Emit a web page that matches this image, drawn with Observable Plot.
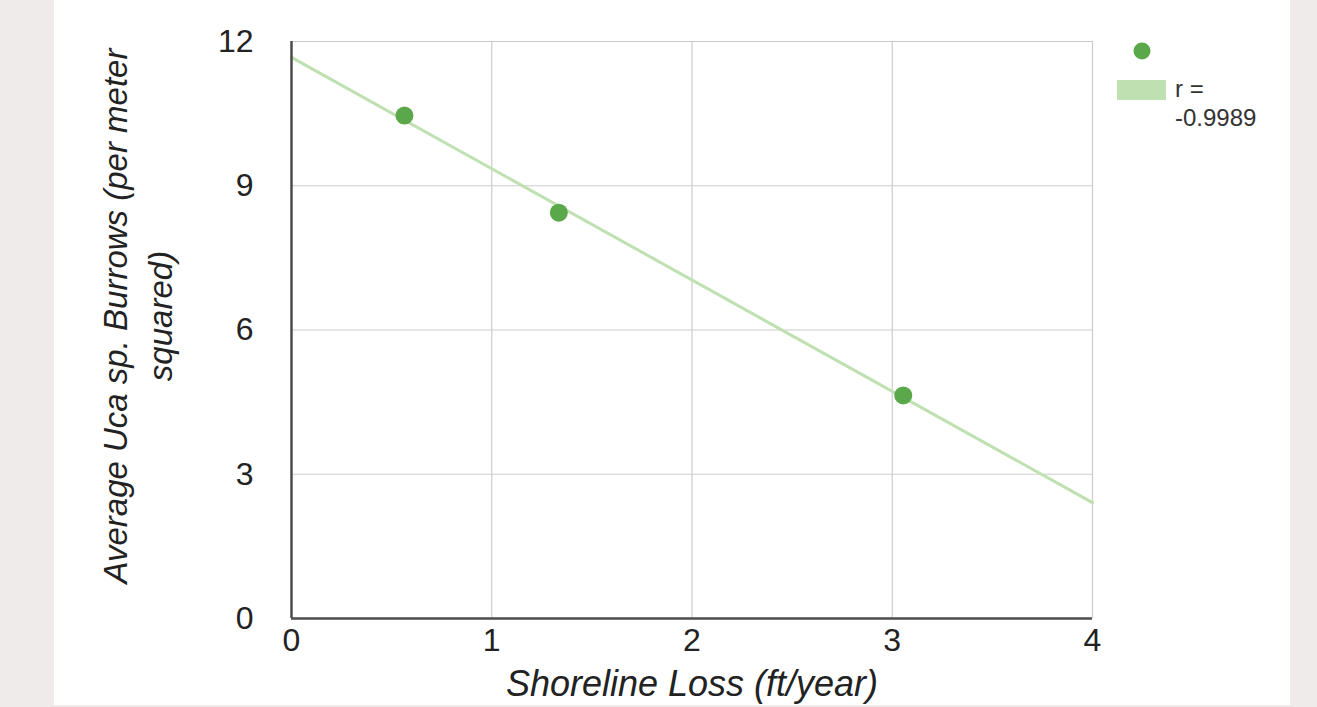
<!DOCTYPE html>
<html>
<head>
<meta charset="utf-8">
<script src="https://cdn.jsdelivr.net/npm/d3@7"></script>
<script src="https://cdn.jsdelivr.net/npm/@observablehq/plot@0.6"></script>
<style>
  html, body { margin: 0; padding: 0; }
  body { width: 1317px; height: 707px; background: #efebeb; position: relative; overflow: hidden; font-family: "Liberation Sans", Arial, sans-serif; }
  #panel { position: absolute; left: 54px; top: 0; width: 1236px; height: 705px; background: #fff; }
  #legend { position: absolute; left: 0; top: 0; }
</style>
</head>
<body>
<div id="panel"></div>
<svg id="legend" width="1317" height="707"></svg>
<script>
// Data
const shorelineLoss = [0.564, 1.335, 3.055];   // ft/year
const burrows = [10.46, 8.44, 4.64];            // per m²
const xTicks = [0, 1, 2, 3, 4];
const yTicks = [0, 3, 6, 9, 12];
const xDomain = [0, 4];
const yDomain = [0, 12];
const xLabel = "Shoreline Loss (ft/year)";
const yLabel = "Average Uca sp. Burrows (per meter\nsquared)";
const legendLabel = ["r =", "-0.9989"];

const points = shorelineLoss.map((x, i) => ({x, y: burrows[i]}));

// least-squares trendline over the full x domain
const mx = d3.mean(shorelineLoss), my = d3.mean(burrows);
const slope = d3.sum(points, d => (d.x - mx) * (d.y - my)) / d3.sum(points, d => (d.x - mx) ** 2);
const intercept = my - slope * mx;
const trend = xDomain.map(x => ({x, y: intercept + slope * x}));

const pointColor = "#5ba84a";
const trendColor = "#bfe0b1";

const chart = Plot.plot({
  width: 1236,
  height: 705,
  marginLeft: 237,
  marginRight: 198,
  marginTop: 41,
  marginBottom: 87,
  style: {fontFamily: "'Liberation Sans', Arial, sans-serif", background: "white", color: "#222"},
  x: {domain: xDomain},
  y: {domain: yDomain},
  marks: [
    Plot.gridX(xTicks, {stroke: "#cccccc", strokeOpacity: 1, strokeWidth: 1.2}),
    Plot.gridY(yTicks, {stroke: "#cccccc", strokeOpacity: 1, strokeWidth: 1.2}),
    Plot.line(trend, {x: "x", y: "y", stroke: trendColor, strokeWidth: 3}),
    Plot.ruleX([0], {stroke: "#4d4d4d", strokeWidth: 2.5}),
    Plot.ruleY([0], {stroke: "#4d4d4d", strokeWidth: 2.5}),
    Plot.dot(points, {x: "x", y: "y", r: 9, fill: pointColor, stroke: null}),
    Plot.axisX(xTicks, {tickSize: 0, tickPadding: 10, fontSize: 32, label: null, fill: "#222", tickFormat: d => String(d)}),
    Plot.axisY(yTicks, {tickSize: 0, tickPadding: 38, fontSize: 32, label: null, fill: "#222", tickFormat: d => String(d)}),
    Plot.text([yLabel], {
      text: d => d, frameAnchor: "left", rotate: -90, dx: -156, dy: -14,
      fontSize: 33, fontStyle: "italic", lineHeight: 1.35, lineAnchor: "middle",
      textAnchor: "middle", fill: "#222"
    }),
    Plot.text([xLabel], {
      text: d => d, frameAnchor: "bottom", dy: 65.5,
      fontSize: 36, fontStyle: "italic", lineAnchor: "middle", textAnchor: "middle", fill: "#222"
    })
  ]
});
document.getElementById("panel").appendChild(chart);

// legend
const lg = d3.select("#legend");
lg.append("circle").attr("cx", 1142).attr("cy", 51).attr("r", 8.5).attr("fill", pointColor);
lg.append("rect").attr("x", 1117).attr("y", 80).attr("width", 49).attr("height", 20).attr("fill", trendColor);
lg.selectAll("text.l").data(legendLabel).join("text")
  .attr("class", "l")
  .attr("x", 1175)
  .attr("y", (d, i) => 97 + i * 29)
  .attr("font-size", 24)
  .attr("font-family", "'Liberation Sans', Arial, sans-serif")
  .attr("fill", "#333")
  .text(d => d);
</script>
</body>
</html>
